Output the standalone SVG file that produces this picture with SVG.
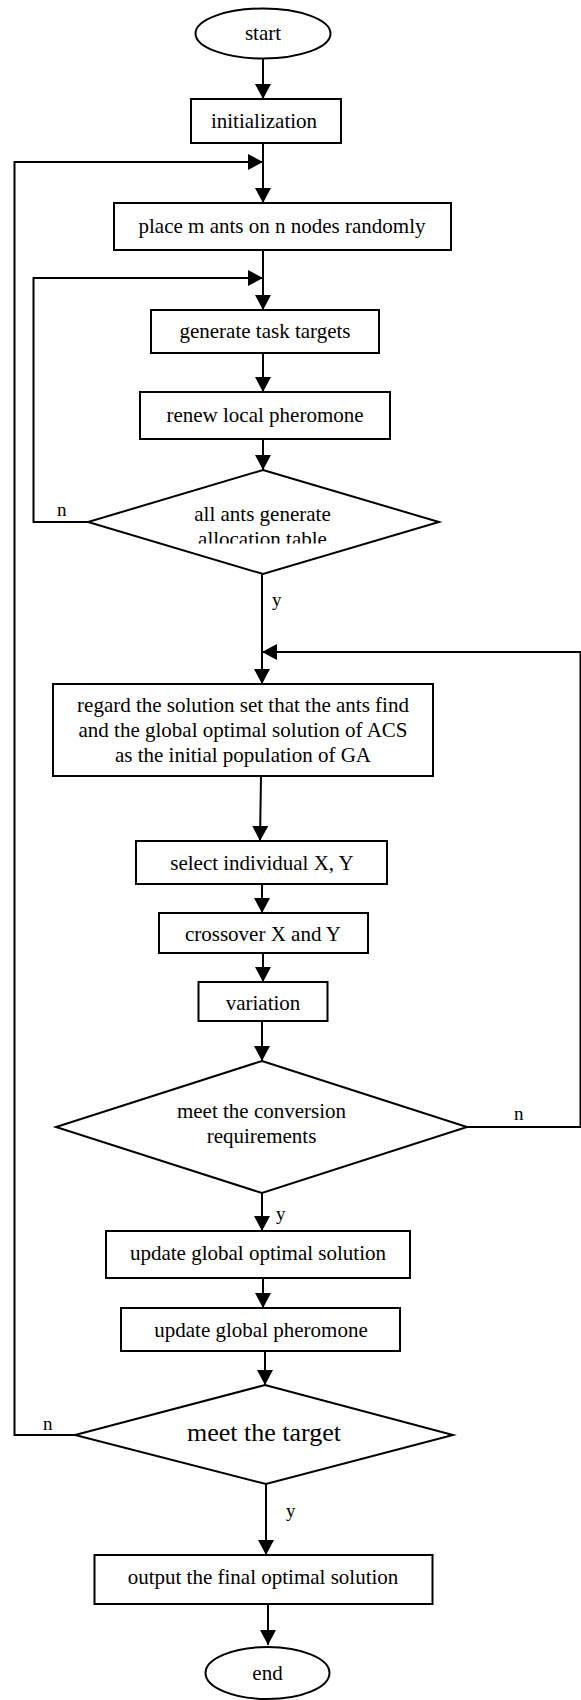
<svg xmlns="http://www.w3.org/2000/svg" width="581" height="1700" viewBox="0 0 581 1700">
<style>
.n{fill:#fff;stroke:#000;stroke-width:2}
.t{font-family:"Liberation Serif","Times New Roman",serif;font-size:21px;fill:#000;text-anchor:middle}
.l{font-family:"Liberation Serif","Times New Roman",serif;font-size:19px;fill:#000}
.c{fill:none;stroke:#000;stroke-width:2}
</style>
<defs>
<marker id="ah" markerUnits="userSpaceOnUse" markerWidth="15" markerHeight="16" refX="15" refY="8" orient="auto"><path d="M0,0 L15,8 L0,16 z" fill="#000"/></marker>
<clipPath id="d1clip"><rect x="0" y="440" width="581" height="103.5"/></clipPath>
</defs>
<rect width="581" height="1700" fill="#fff"/>
<g id="connectors">
<path class="c" d="M263,58 V99" marker-end="url(#ah)"/>
<path class="c" d="M263,143 V203" marker-end="url(#ah)"/>
<path class="c" d="M75,1435 H14.5 V162 H263" marker-end="url(#ah)"/>
<path class="c" d="M263,250 V310" marker-end="url(#ah)"/>
<path class="c" d="M88,522 H33.5 V278 H263" marker-end="url(#ah)"/>
<path class="c" d="M263,353 V392" marker-end="url(#ah)"/>
<path class="c" d="M263,439 V470" marker-end="url(#ah)"/>
<path class="c" d="M262,574 V684" marker-end="url(#ah)"/>
<path class="c" d="M467,1127 H580.5 V652 H262" marker-end="url(#ah)"/>
<path class="c" d="M261,776 L260,841" marker-end="url(#ah)"/>
<path class="c" d="M262,884 V913" marker-end="url(#ah)"/>
<path class="c" d="M263,953 V982" marker-end="url(#ah)"/>
<path class="c" d="M262,1021 V1061" marker-end="url(#ah)"/>
<path class="c" d="M262,1193 V1231" marker-end="url(#ah)"/>
<path class="c" d="M263,1278 V1308" marker-end="url(#ah)"/>
<path class="c" d="M265,1351 V1385" marker-end="url(#ah)"/>
<path class="c" d="M266,1484 V1555" marker-end="url(#ah)"/>
<path class="c" d="M268,1604 V1645" marker-end="url(#ah)"/>
<text class="l" x="57" y="516">n</text>
<text class="l" x="272" y="606">y</text>
<text class="l" x="514" y="1120">n</text>
<text class="l" x="276" y="1220">y</text>
<text class="l" x="43" y="1430">n</text>
<text class="l" x="286" y="1517">y</text>
</g>
<g id="start"><ellipse class="n" cx="263" cy="33.5" rx="67.5" ry="25"/><text class="t" x="263" y="40">start</text></g>
<g id="init"><rect class="n" x="191" y="99" width="150" height="44"/><text class="t" x="264" y="128">initialization</text></g>
<g id="place"><rect class="n" x="114" y="203" width="337" height="47"/><text class="t" x="282" y="233">place m ants on n nodes randomly</text></g>
<g id="generate"><rect class="n" x="151" y="310" width="228" height="43"/><text class="t" x="265" y="338">generate task targets</text></g>
<g id="renew"><rect class="n" x="140" y="392" width="250" height="47"/><text class="t" x="265" y="422">renew local pheromone</text></g>
<g id="decision1"><polygon class="n" points="263,470 439,522 263,574 88,522"/><g clip-path="url(#d1clip)"><text class="t" x="262.5" y="521">all ants generate</text><text class="t" x="262.5" y="546">allocation table</text></g></g>
<g id="regard"><rect class="n" x="53" y="684" width="380" height="92"/><text class="t" x="243" y="712">regard the solution set that the ants find</text><text class="t" x="243" y="737">and the global optimal solution of ACS</text><text class="t" x="243" y="762">as the initial population of GA</text></g>
<g id="select"><rect class="n" x="136" y="841" width="251" height="43"/><text class="t" x="262" y="870">select individual X, Y</text></g>
<g id="crossover"><rect class="n" x="159" y="913" width="209" height="40"/><text class="t" x="263" y="941">crossover X and Y</text></g>
<g id="variation"><rect class="n" x="198.5" y="982" width="129" height="39"/><text class="t" x="263" y="1010">variation</text></g>
<g id="decision2"><polygon class="n" points="262,1061 467,1127 262,1193 56,1127"/><text class="t" x="261.5" y="1118">meet the conversion</text><text class="t" x="261.5" y="1143">requirements</text></g>
<g id="updateopt"><rect class="n" x="106" y="1231" width="304" height="47"/><text class="t" x="258" y="1260">update global optimal solution</text></g>
<g id="updatepher"><rect class="n" x="121" y="1308" width="279" height="43"/><text class="t" x="261" y="1337">update global pheromone</text></g>
<g id="decision3"><polygon class="n" points="265,1385 453,1435 266,1484 75,1435"/><text class="t" x="264" y="1441" style="font-size:26px">meet the target</text></g>
<g id="output"><rect class="n" x="94.5" y="1555" width="338" height="49"/><text class="t" x="263" y="1584">output the final optimal solution</text></g>
<g id="end"><ellipse class="n" cx="267.5" cy="1673" rx="62" ry="26"/><text class="t" x="267.5" y="1680">end</text></g>
</svg>
